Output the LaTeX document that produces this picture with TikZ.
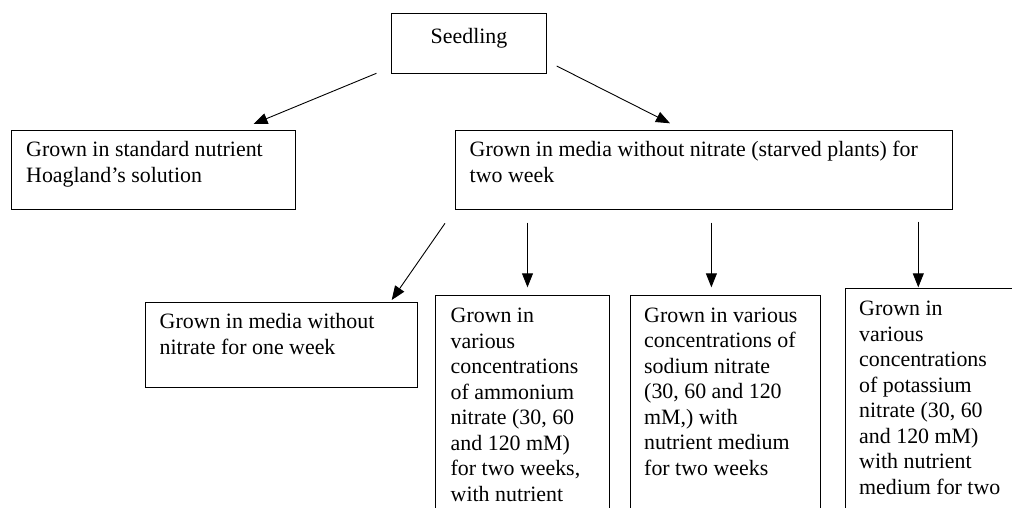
\documentclass[tikz,border=0pt]{standalone}
\usepackage{fontspec}
\setmainfont{Liberation Serif}
\usetikzlibrary{arrows.meta,calc}
\begin{document}
\begin{tikzpicture}[x=1pt,y=-1pt,
  box/.style={draw=black, line width=1pt, rectangle, inner sep=0pt, anchor=north west},
  conn/.style={draw=black, line width=0.9pt, -{Triangle[length=14pt,width=11pt]}},
  txt/.style={anchor=base west, inner sep=0pt, font=\fontsize{21.9}{25.5}\selectfont}]
\useasboundingbox (0,0) rectangle (1012,507);
\clip (0,0) rectangle (1012,507);
% boxes
\node[box, minimum width=155pt, minimum height=59.4pt] (seed) at (391,13.3) {};
\node[box, minimum width=283.5pt, minimum height=79.3pt] (l1) at (11,130) {};
\node[box, minimum width=497.8pt, minimum height=79.3pt] (r1) at (454.5,130) {};
\node[box, minimum width=272pt, minimum height=85pt] (b1) at (145,301.7) {};
\node[box, minimum width=174pt, minimum height=240pt] (b2) at (435,295) {};
\node[box, minimum width=190.5pt, minimum height=240pt] (b3) at (629.5,294.5) {};
\node[box, minimum width=200pt, minimum height=240pt] (b4) at (844.5,288) {};
% texts
\node[txt, anchor=base] (seedt) at ($(seed.north)+(0,30)$) {Seedling};
\node[txt] (l1t) at ($(l1.north west)+(15,26.5)$) {\parbox[t]{400pt}{Grown in standard nutrient\\Hoagland’s solution}};
\node[txt] (r1t) at ($(r1.north west)+(15,26.5)$) {\parbox[t]{600pt}{Grown in media without nitrate (starved plants) for\\two week}};
\node[txt] (b1t) at ($(b1.north west)+(14.5,27)$) {\parbox[t]{400pt}{Grown in media without\\nitrate for one week}};
\node[txt] (b2t) at ($(b2.north west)+(15.5,27.5)$) {\parbox[t]{300pt}{Grown in\\various\\concentrations\\of ammonium\\nitrate (30, 60\\and 120 mM)\\for two weeks,\\with nutrient}};
\node[txt] (b3t) at ($(b3.north west)+(14.5,27.5)$) {\parbox[t]{300pt}{Grown in various\\concentrations of\\sodium nitrate\\(30, 60 and 120\\mM,) with\\nutrient medium\\for two weeks}};
\node[txt] (b4t) at ($(b4.north west)+(14.5,27.5)$) {\parbox[t]{300pt}{Grown in\\various\\concentrations\\of potassium\\nitrate (30, 60\\and 120 mM)\\with nutrient\\medium for two}};
% connector ends
\coordinate (a1s) at (376.4,73.3);
\coordinate (a1e) at (253.5,124);
\coordinate (a2s) at (556.7,66);
\coordinate (a2e) at (670,123.3);
\coordinate (a3s) at (445,223.3);
\coordinate (a3e) at (391.7,300);
\coordinate (a4s) at (527.5,222.7);
\coordinate (a4e) at (527.5,287.3);
\coordinate (a5s) at (711.4,222.7);
\coordinate (a5e) at (711.4,287.3);
\coordinate (a6s) at (918.3,221.7);
\coordinate (a6e) at (918.3,287.3);
\draw[conn] (a1s) -- (a1e);
\draw[conn] (a2s) -- (a2e);
\draw[conn] (a3s) -- (a3e);
\draw[conn] (a4s) -- (a4e);
\draw[conn] (a5s) -- (a5e);
\draw[conn] (a6s) -- (a6e);
\end{tikzpicture}
\end{document}
